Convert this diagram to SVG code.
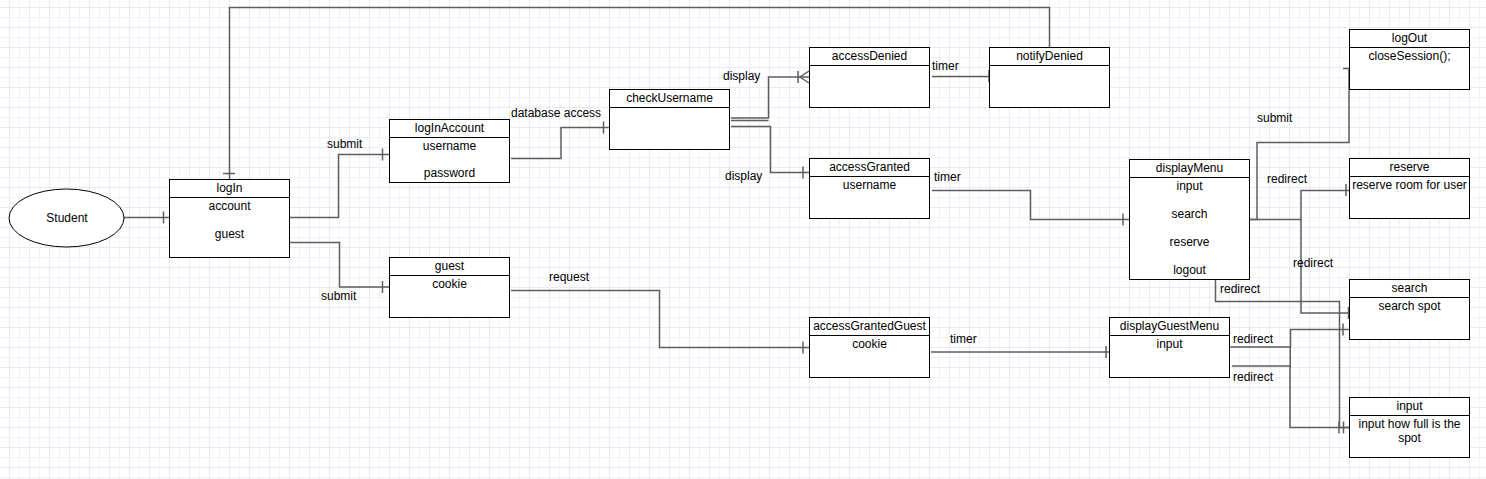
<svg xmlns="http://www.w3.org/2000/svg" width="1486" height="479" viewBox="0 0 1486 479">
<defs>
<pattern id="grid" patternUnits="userSpaceOnUse" x="0" y="0" width="20" height="20">
<path d="M9.5,0 V20 M0,7.5 H20" stroke="#ebe9f6" stroke-width="1" fill="none"/>
<path d="M19.5,0 V20 M0,17.5 H20" stroke="#f2f1fa" stroke-width="1" fill="none"/>
</pattern>
<style>
.box{fill:#fff;stroke:#000;stroke-width:1}
.sep{stroke:#000;stroke-width:1}
.t{font-family:"Liberation Sans",Arial,Helvetica,sans-serif;font-size:12px;fill:#000}
.c{text-anchor:middle}
.e{fill:none;stroke:#5e5e5e;stroke-width:1.5}
.tk{fill:none;stroke:#5e5e5e;stroke-width:1.5}
</style>
</defs>
<rect width="1486" height="479" fill="#fff"/>
<rect width="1486" height="479" fill="url(#grid)"/>

<g id="connectors">
<path class="e" d="M124,217.5 H169"/><path class="tk" d="M163.5,211.5 V223.5"/>
<path class="e" d="M229.5,179 V7.5 H1049.5 V47"/><path class="tk" d="M223,173.5 H235"/>
<path class="e" d="M289,217.5 H338.5 V154.5 H389"/><path class="tk" d="M382.5,148.5 V160.5"/>
<path class="e" d="M289,242.5 H339.5 V287 H389"/><path class="tk" d="M382.5,281 V293"/>
<path class="e" d="M511,158.5 H561 V127.5 H609"/><path class="tk" d="M603.5,121.5 V133.5"/>
<path class="e" d="M731,118 H768.5 V77 H809"/><path class="e" d="M731,120.5 H768.5"/>
<path class="tk" d="M798,71 V83 M809,71 L800,77 L809,83"/>
<path class="e" d="M731,126.5 H770.5 V172.5 H809"/><path class="tk" d="M803,166.5 V178.5"/>
<path class="e" d="M932,76.5 H989"/><path class="tk" d="M989,70 V82"/>
<path class="e" d="M932,190.5 H1030.5 V219.5 H1129"/><path class="tk" d="M1123,213.5 V225.5"/>
<path class="e" d="M1249,219.5 H1257 V142.5 H1349 V68"/><path class="tk" d="M1343,68.5 H1355"/>
<path class="e" d="M1249,219.5 H1301 V190.5 H1349"/><path class="tk" d="M1346,184 V196"/>
<path class="e" d="M1301,219.5 V313 H1353"/><path class="tk" d="M1348.5,307 V319"/>
<path class="e" d="M1215.5,279 V301.5 H1339.5 V427.5 H1349"/><path class="tk" d="M1343.5,421.5 V433.5"/>
<path class="e" d="M1229,347 H1290.5 V329.5 H1349"/><path class="tk" d="M1343,323.5 V335.5"/>
<path class="e" d="M1232,366 H1290 V427.5 H1349"/><path class="tk" d="M1339,421.5 V433.5"/>
<path class="e" d="M1290.25,346 V367"/>
<path class="e" d="M511,290.5 H659.5 V347.5 H809"/><path class="tk" d="M803,341.5 V353.5"/>
<path class="e" d="M931,352 H1109"/><path class="tk" d="M1106,346 V358"/>
<text class="t" x="327" y="148">submit</text>
<text class="t" x="321" y="300">submit</text>
<text class="t" x="511" y="117">database access</text>
<text class="t" x="723" y="80">display</text>
<text class="t" x="725" y="180">display</text>
<text class="t" x="932" y="70">timer</text>
<text class="t" x="934" y="181">timer</text>
<text class="t" x="1257" y="122">submit</text>
<text class="t" x="1267" y="183">redirect</text>
<text class="t" x="1293" y="267">redirect</text>
<text class="t" x="1220" y="293">redirect</text>
<text class="t" x="1233" y="343">redirect</text>
<text class="t" x="1233" y="381">redirect</text>
<text class="t" x="549" y="281">request</text>
<text class="t" x="950" y="343">timer</text>
</g>

<g id="student">
<ellipse cx="66.5" cy="218" rx="57.5" ry="29" fill="#fff" stroke="#000" stroke-width="1"/>
<text class="t c" x="67" y="222">Student</text>
</g>

<g id="logIn">
<rect class="box" x="169.5" y="179.5" width="120" height="78"/>
<path class="sep" d="M169.5,197.5 H289.5"/>
<text class="t c" x="229.5" y="192">logIn</text>
<text class="t c" x="229.5" y="209.5">account</text>
<text class="t c" x="229.5" y="237.5">guest</text>
</g>

<g id="logInAccount">
<rect class="box" x="389.5" y="119.5" width="120" height="63"/>
<path class="sep" d="M389.5,137.5 H509.5"/>
<text class="t c" x="449.5" y="132">logInAccount</text>
<text class="t c" x="449.5" y="149.5">username</text>
<text class="t c" x="449.5" y="177">password</text>
</g>

<g id="guest">
<rect class="box" x="389.5" y="257.5" width="120" height="60"/>
<path class="sep" d="M389.5,275.5 H509.5"/>
<text class="t c" x="449.5" y="270">guest</text>
<text class="t c" x="449.5" y="287.5">cookie</text>
</g>

<g id="checkUsername">
<rect class="box" x="609.5" y="89.5" width="120" height="60"/>
<path class="sep" d="M609.5,107.5 H729.5"/>
<text class="t c" x="669.5" y="102">checkUsername</text>
</g>

<g id="accessDenied">
<rect class="box" x="809.5" y="47.5" width="120" height="60"/>
<path class="sep" d="M809.5,65.5 H929.5"/>
<text class="t c" x="869.5" y="60">accessDenied</text>
</g>

<g id="notifyDenied">
<rect class="box" x="989.5" y="47.5" width="120" height="60"/>
<path class="sep" d="M989.5,65.5 H1109.5"/>
<text class="t c" x="1049.5" y="60">notifyDenied</text>
</g>

<g id="accessGranted">
<rect class="box" x="809.5" y="158.5" width="120" height="60"/>
<path class="sep" d="M809.5,176.5 H929.5"/>
<text class="t c" x="869.5" y="171">accessGranted</text>
<text class="t c" x="869.5" y="188.5">username</text>
</g>

<g id="displayMenu">
<rect class="box" x="1129.5" y="159.5" width="120" height="120"/>
<path class="sep" d="M1129.5,177.5 H1249.5"/>
<text class="t c" x="1189.5" y="172">displayMenu</text>
<text class="t c" x="1189.5" y="189.5">input</text>
<text class="t c" x="1189.5" y="217.5">search</text>
<text class="t c" x="1189.5" y="245.5">reserve</text>
<text class="t c" x="1189.5" y="273.5">logout</text>
</g>

<g id="logOut">
<rect class="box" x="1349.5" y="29.5" width="120" height="60"/>
<path class="sep" d="M1349.5,47.5 H1469.5"/>
<text class="t c" x="1409.5" y="42">logOut</text>
<text class="t c" x="1409.5" y="59.5">closeSession();</text>
</g>

<g id="reserve">
<rect class="box" x="1349.5" y="158.5" width="120" height="60"/>
<path class="sep" d="M1349.5,176.5 H1469.5"/>
<text class="t c" x="1409.5" y="171">reserve</text>
<text class="t c" x="1409.5" y="188.5">reserve room for user</text>
</g>

<g id="search">
<rect class="box" x="1349.5" y="279.5" width="120" height="60"/>
<path class="sep" d="M1349.5,297.5 H1469.5"/>
<text class="t c" x="1409.5" y="292">search</text>
<text class="t c" x="1409.5" y="309.5">search spot</text>
</g>

<g id="input">
<rect class="box" x="1349.5" y="397.5" width="120" height="60"/>
<path class="sep" d="M1349.5,415.5 H1469.5"/>
<text class="t c" x="1409.5" y="410">input</text>
<text class="t c" x="1409.5" y="427.5">input how full is the</text>
<text class="t c" x="1409.5" y="441.5">spot</text>
</g>

<g id="accessGrantedGuest">
<rect class="box" x="809.5" y="317.5" width="120" height="60"/>
<path class="sep" d="M809.5,335.5 H929.5"/>
<text class="t c" x="869.5" y="330">accessGrantedGuest</text>
<text class="t c" x="869.5" y="347.5">cookie</text>
</g>

<g id="displayGuestMenu">
<rect class="box" x="1109.5" y="317.5" width="120" height="60"/>
<path class="sep" d="M1109.5,335.5 H1229.5"/>
<text class="t c" x="1169.5" y="330">displayGuestMenu</text>
<text class="t c" x="1169.5" y="347.5">input</text>
</g>
</svg>
